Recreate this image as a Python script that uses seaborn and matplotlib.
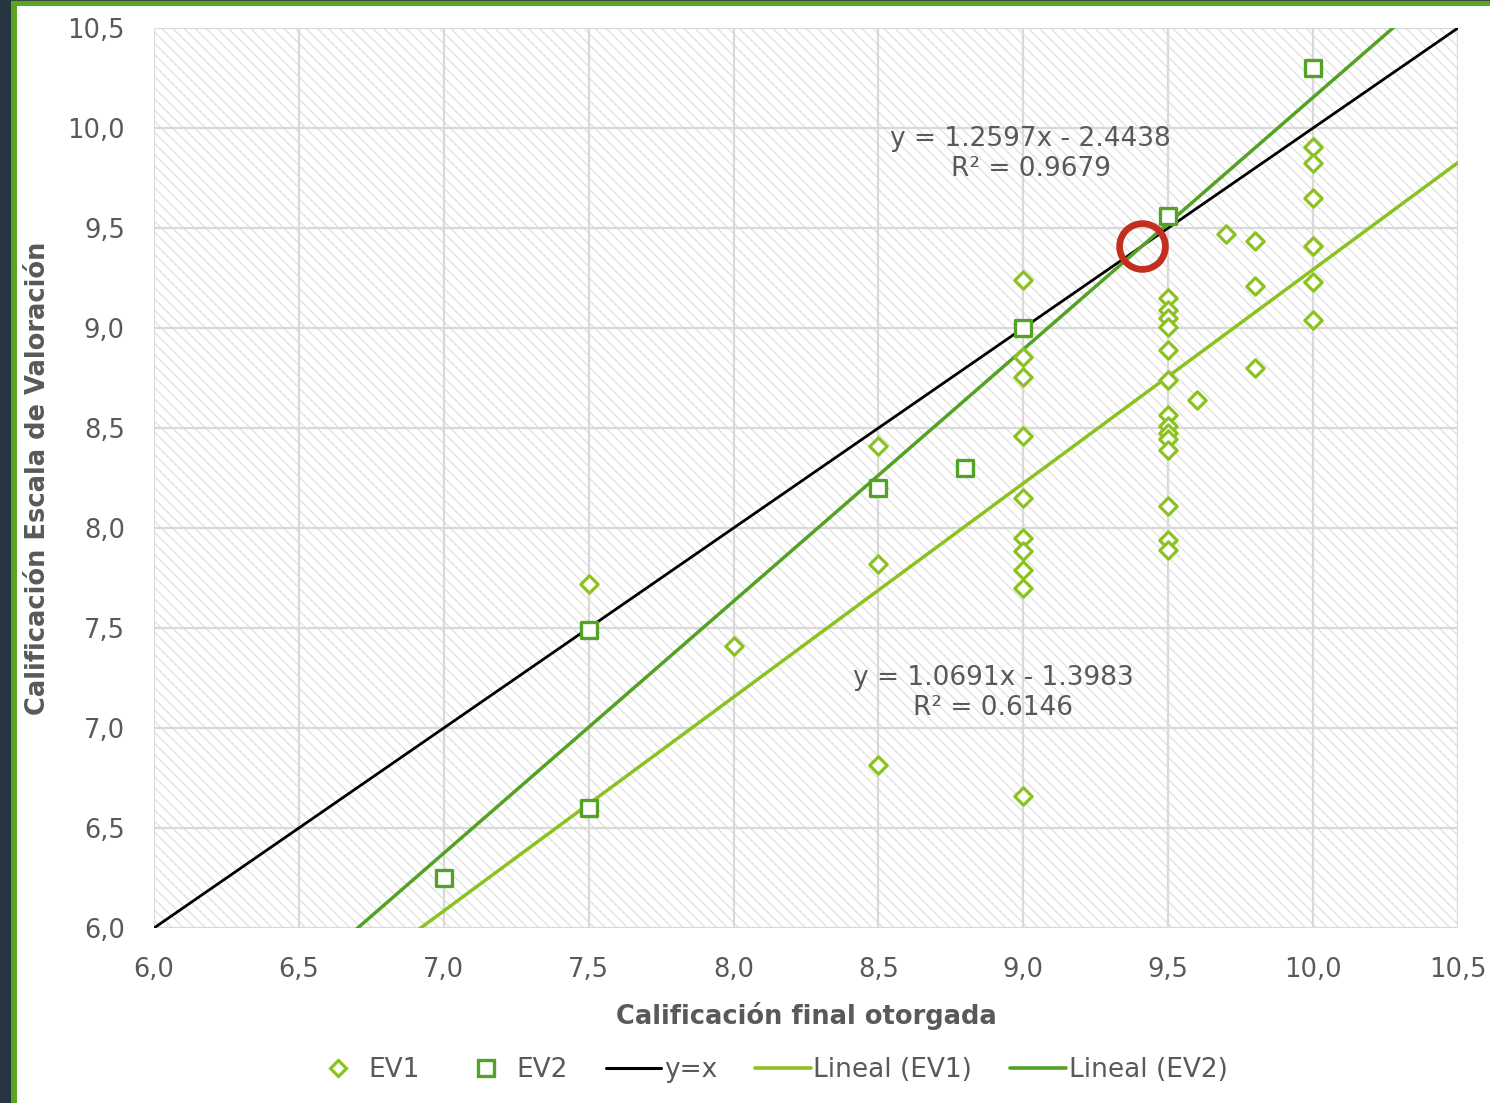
import numpy as np
import pandas as pd
import matplotlib
matplotlib.use("Agg")
import matplotlib.pyplot as plt
import seaborn as sns
from matplotlib.lines import Line2D
from matplotlib.patches import Rectangle

# ---------------- data ----------------
ev1_x = [7.5, 8.0, 8.5, 8.5, 8.5,
         9.0, 9.0, 9.0, 9.0, 9.0, 9.0, 9.0, 9.0, 9.0, 9.0,
         9.5, 9.5, 9.5, 9.5, 9.5, 9.5, 9.5, 9.5, 9.5, 9.5, 9.5, 9.5, 9.5, 9.5,
         9.6, 9.7, 9.8, 9.8, 9.8,
         10.0, 10.0, 10.0, 10.0, 10.0, 10.0]
ev1_y = [7.72, 7.41, 8.41, 7.82, 6.815,
         9.24, 8.855, 8.755, 8.46, 8.15, 7.95, 7.885, 7.79, 7.70, 6.66,
         9.15, 9.09, 9.05, 9.005, 8.89, 8.74, 8.565, 8.51, 8.475, 8.445, 8.39, 8.11, 7.94, 7.89,
         8.64, 9.47, 9.435, 9.21, 8.80,
         9.905, 9.825, 9.65, 9.41, 9.23, 9.04]

ev2_x = [7.0, 7.5, 7.5, 8.5, 8.8, 9.0, 9.5, 10.0]
ev2_y = [6.25, 6.6, 7.49, 8.2, 8.3, 9.0, 9.56, 10.3]

fit_ev1 = [1.0691, -1.3983]   # slope, intercept
r2_ev1 = 0.6146
fit_ev2 = [1.2597, -2.4438]
r2_ev2 = 0.9679

ticks = [6.0, 6.5, 7.0, 7.5, 8.0, 8.5, 9.0, 9.5, 10.0, 10.5]
xlabel = "Calificación final otorgada"
ylabel = "Calificación Escala de Valoración"
legend_labels = ["EV1", "EV2", "y=x", "Lineal (EV1)", "Lineal (EV2)"]

# ---------------- style ----------------
C_EV1 = "#8cc21f"
C_EV2 = "#54a224"
C_TXT = "#595959"
C_GRID = "#d9d9d9"
C_RED = "#c22f1d"

sns.set_theme(style="white")
plt.rcParams["font.family"] = ["DejaVu Sans"]
plt.rcParams["hatch.linewidth"] = 0.9

fig = plt.figure(figsize=(14.9, 11.03), dpi=100)
ax = fig.add_axes([154 / 1490, 1 - 928 / 1103, (1458 - 154) / 1490, 900 / 1103])

# hatched plot background
ax.add_patch(Rectangle((0, 0), 1, 1, transform=ax.transAxes, facecolor="white",
                       edgecolor="#e0e0e0", hatch="\\\\\\", linewidth=0, zorder=0))

df1 = pd.DataFrame({"x": ev1_x, "y": ev1_y})
df2 = pd.DataFrame({"x": ev2_x, "y": ev2_y})

# lines
xl = np.array([ticks[0], ticks[-1]])
line_df = pd.DataFrame({
    "x": np.concatenate([xl, xl, xl]),
    "y": np.concatenate([xl, fit_ev1[0] * xl + fit_ev1[1], fit_ev2[0] * xl + fit_ev2[1]]),
    "serie": ["y=x"] * 2 + ["Lineal (EV1)"] * 2 + ["Lineal (EV2)"] * 2,
})
sns.lineplot(data=line_df[line_df.serie == "y=x"], x="x", y="y", color="black",
             lw=2.0, ax=ax, zorder=3, legend=False)
sns.lineplot(data=line_df[line_df.serie == "Lineal (EV1)"], x="x", y="y", color=C_EV1,
             lw=2.5, ax=ax, zorder=3, legend=False)
sns.lineplot(data=line_df[line_df.serie == "Lineal (EV2)"], x="x", y="y", color=C_EV2,
             lw=2.5, ax=ax, zorder=3, legend=False)

# scatter points
sns.scatterplot(data=df1, x="x", y="y", marker="D", s=78, facecolor="white",
                edgecolor=C_EV1, linewidth=2.3, ax=ax, zorder=4, legend=False)
sns.scatterplot(data=df2, x="x", y="y", marker="s", s=135, facecolor="white",
                edgecolor=C_EV2, linewidth=2.4, ax=ax, zorder=4, legend=False)

# intersection highlight (y=x with EV2 trend)
xi = -fit_ev2[1] / (fit_ev2[0] - 1)
ax.plot([xi], [xi], marker="o", ms=33, mfc="none", mec=C_RED, mew=4.8, zorder=6)

# equations
ax.text(9.025, 9.87, f"y = {fit_ev2[0]}x - {abs(fit_ev2[1])}\nR² = {r2_ev2}",
        ha="center", va="center", multialignment="center", fontsize=19,
        color=C_TXT, linespacing=1.2, zorder=5)
ax.text(8.895, 7.175, f"y = {fit_ev1[0]}x - {abs(fit_ev1[1])}\nR² = {r2_ev1}",
        ha="center", va="center", multialignment="center", fontsize=19,
        color=C_TXT, linespacing=1.2, zorder=5)

# axes
ax.set_xlim(ticks[0], ticks[-1])
ax.set_ylim(ticks[0], ticks[-1])
ax.set_xticks(ticks)
ax.set_yticks(ticks)
lbls = [f"{t:.1f}".replace(".", ",") for t in ticks]
ax.set_xticklabels(lbls)
ax.set_yticklabels(lbls)
ax.tick_params(axis="both", length=0, labelsize=18.5, labelcolor=C_TXT, pad=21)
ax.grid(True, color=C_GRID, lw=1.6)
ax.set_axisbelow(True)
for s in ax.spines.values():
    s.set_visible(False)

ax.set_xlabel(xlabel, fontsize=18.5, fontweight="bold", color=C_TXT)
ax.set_ylabel(ylabel, fontsize=18.5, fontweight="bold", color=C_TXT)
ax.xaxis.set_label_coords(0.5, -0.082)
ax.yaxis.set_label_coords(-0.079, 0.5)

# legend
handles = [
    Line2D([], [], ls="none", marker="D", ms=8.5, mfc="white", mec=C_EV1, mew=2.3),
    Line2D([], [], ls="none", marker="s", ms=11, mfc="white", mec=C_EV2, mew=2.4),
    Line2D([], [], color="black", lw=2.2),
    Line2D([], [], color=C_EV1, lw=2.6),
    Line2D([], [], color=C_EV2, lw=2.6),
]
fig.legend(handles, legend_labels, loc="center", bbox_to_anchor=(0.516, 0.030), ncol=5,
           frameon=False, fontsize=19, labelcolor=C_TXT, handlelength=2.1,
           handletextpad=0.1, columnspacing=1.45)

# frame decorations (dark strip + green border)
fig.patches.append(Rectangle((0, 0), 11 / 1490, 1, transform=fig.transFigure,
                             facecolor="#263540", edgecolor="none", zorder=10))
fig.patches.append(Rectangle((11 / 1490, 0), 6 / 1490, 1, transform=fig.transFigure,
                             facecolor="#5aa624", edgecolor="none", zorder=10))
fig.patches.append(Rectangle((11 / 1490, 1 - 6 / 1103), 1, 6 / 1103, transform=fig.transFigure,
                             facecolor="#5aa624", edgecolor="none", zorder=10))
fig.patches.append(Rectangle((11 / 1490, 1 - 1 / 1103), 1, 1 / 1103, transform=fig.transFigure,
                             facecolor="#3b4a3a", edgecolor="none", zorder=11))

fig.savefig("out.png", dpi=100, facecolor="white")
